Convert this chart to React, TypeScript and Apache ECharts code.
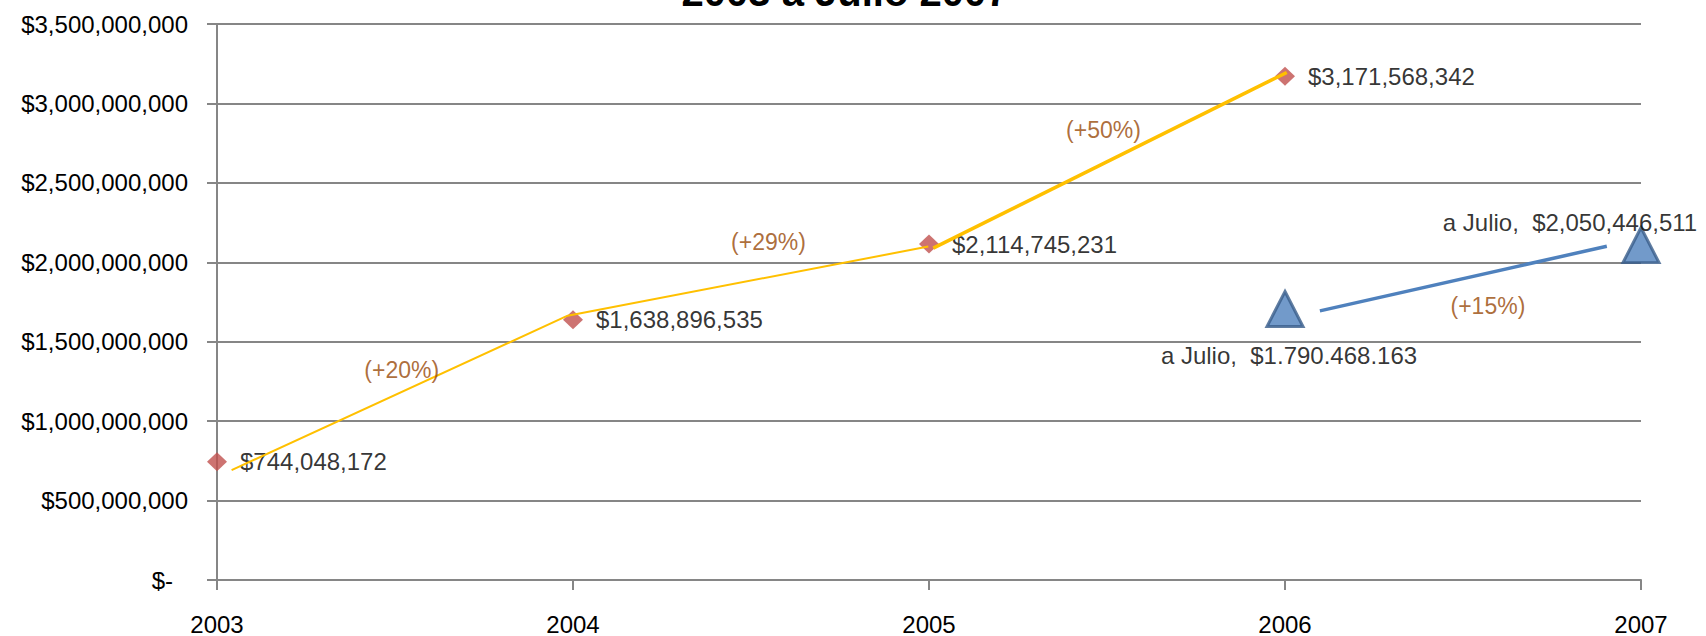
import React, { useEffect, useRef } from "react";
import * as echarts from "echarts";

// ---- data ----
const years = [2003, 2004, 2005, 2006];
const totals = [744048172, 1638896535, 2114745231, 3171568342];

const julioYears = [2006, 2007];
const julioMarkerValues = [1706000000, 2108000000];
const julioLabels = ["a Julio, \u00a0$1.790.468.163", "a Julio, \u00a0$2,050,446,511"];

const growthLabels = ["(+20%)", "(+29%)", "(+50%)", "(+15%)"];
const growthX = [2003.519, 2004.549, 2005.49, 2006.57];
const growthY = [1319000000, 2128000000, 2835000000, 1725000000];

// hand-drawn connector lines
const yellowThinX = [2003.041, 2003.985, 2004.998];
const yellowThinY = [691800000, 1664000000, 2099000000];
const yellowThickX = [2005.012, 2006.005];
const yellowThickY = [2089000000, 3195000000];
const blueLineX = [2006.098, 2006.904];
const blueLineY = [1694000000, 2101000000];

const titleText = "2003 a Julio 2007";
const yMin = 0;
const yMax = 3500000000;
const yStep = 500000000;

const FONT = "'Liberation Sans', Arial, sans-serif";
const GRAY = "#868686";

const fmtMoney = (v: number) => "$" + Math.round(v).toLocaleString("en-US");

export default function App() {
  const ref = useRef<HTMLDivElement>(null);

  useEffect(() => {
    document.body.style.margin = "0";
    const chart = echarts.init(ref.current!, null, { renderer: "svg" });

    const zip = (xs: number[], ys: number[]) => xs.map((x, i) => [x, ys[i]]);

    chart.setOption({
      animation: false,
      backgroundColor: "#ffffff",
      textStyle: { fontFamily: FONT },
      grid: { left: 217, right: 65, top: 24, bottom: 54, containLabel: false },
      graphic: [
        {
          type: "text",
          x: 845,
          y: -8,
          style: {
            text: titleText,
            font: `bold 40px ${FONT}`,
            fill: "#000",
            align: "center",
            verticalAlign: "middle",
          },
        },
      ],
      xAxis: {
        type: "value",
        min: 2003,
        max: 2007,
        interval: 1,
        splitLine: { show: false },
        axisLine: { show: true, lineStyle: { color: GRAY, width: 2 } },
        axisTick: { show: true, length: 10, lineStyle: { color: GRAY, width: 2 } },
        axisLabel: {
          margin: 32,
          fontSize: 24,
          color: "#000",
          fontFamily: FONT,
          formatter: (v: number) => String(v),
        },
      },
      yAxis: {
        type: "value",
        min: yMin,
        max: yMax,
        interval: yStep,
        axisLine: { show: true, lineStyle: { color: GRAY, width: 2 } },
        axisTick: { show: true, length: 10, lineStyle: { color: GRAY, width: 2 } },
        splitLine: { show: true, lineStyle: { color: GRAY, width: 2 } },
        axisLabel: {
          margin: 29,
          fontSize: 24,
          color: "#000",
          fontFamily: FONT,
          formatter: (v: number) => (v === 0 ? "{z|$-}" : fmtMoney(v)),
          rich: {
            z: { fontSize: 24, color: "#000", fontFamily: FONT, padding: [0, 15, 0, 0] },
          },
        },
      },
      series: [
        {
          name: "Total",
          type: "scatter",
          symbol: "diamond",
          symbolSize: [20, 19],
          itemStyle: { color: "#C0504D" },
          data: zip(years, totals),
          label: {
            show: true,
            position: "right",
            distance: 13,
            fontSize: 24,
            color: "#000",
            fontFamily: FONT,
            formatter: (p: any) => fmtMoney(p.value[1]),
          },
          z: 3,
        },
        {
          type: "line",
          data: zip(yellowThinX, yellowThinY),
          symbol: "none",
          lineStyle: { color: "#FFC000", width: 2 },
          z: 4,
        },
        {
          type: "line",
          data: zip(yellowThickX, yellowThickY),
          symbol: "none",
          lineStyle: { color: "#FFC000", width: 3.5 },
          z: 4,
        },
        {
          type: "line",
          data: zip(blueLineX, blueLineY),
          symbol: "none",
          lineStyle: { color: "#4F81BD", width: 3.5 },
          z: 4,
        },
        {
          name: "a Julio",
          type: "scatter",
          symbol: "triangle",
          symbolSize: [36, 35],
          itemStyle: { color: "#4F81BD", borderColor: "#385D8A", borderWidth: 3 },
          data: julioYears.map((x, i) => ({
            value: [x, julioMarkerValues[i]],
            label: {
              show: true,
              position: "inside",
              offset: i === 0 ? [4, 47] : [-71, -23],
              formatter: julioLabels[i],
              fontSize: 24,
              color: "#000",
              fontFamily: FONT,
            },
          })),
          z: 5,
        },
        {
          type: "scatter",
          symbolSize: 1,
          itemStyle: { color: "rgba(0,0,0,0)" },
          data: growthX.map((x, i) => ({
            value: [x, growthY[i]],
            label: {
              show: true,
              position: "inside",
              formatter: growthLabels[i],
              fontSize: 23,
              color: "#984807",
              fontFamily: FONT,
            },
          })),
          z: 6,
        },
      ],
    });

    return () => chart.dispose();
  }, []);

  return <div ref={ref} style={{ width: 1706, height: 636 }} />;
}
